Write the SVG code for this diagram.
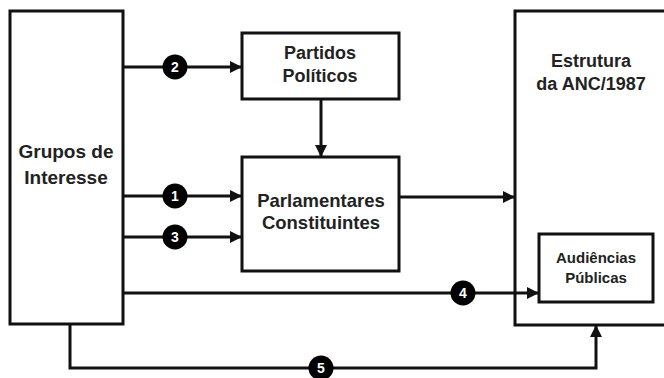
<svg xmlns="http://www.w3.org/2000/svg" width="664" height="378" viewBox="0 0 664 378">
<defs>
<marker id="ah" viewBox="0 0 12 12" refX="12" refY="6" markerWidth="12" markerHeight="12" markerUnits="userSpaceOnUse" orient="auto">
<path d="M0,0 L12,6 L0,12 Z" fill="#111"/>
</marker>
<style>
.box{fill:#fff;stroke:#111;stroke-width:3}
.t{font-family:"Liberation Sans",Arial,sans-serif;font-weight:bold;fill:#222;text-anchor:middle}
.c{stroke:#111;stroke-width:3;fill:none}
.badge circle{fill:#000}
.badge text{font-family:"Liberation Sans",Arial,sans-serif;font-weight:bold;fill:#fff;font-size:14px;text-anchor:middle}
</style>
</defs>
<rect width="664" height="378" fill="#fff"/>
<g id="estrutura">
<rect class="box" x="515" y="11" width="160" height="314"/>
<text class="t" font-size="18" x="591" y="67">Estrutura</text>
<text class="t" font-size="18" x="591" y="90">da ANC/1987</text>
</g>
<g id="grupos">
<rect class="box" x="10" y="11" width="113" height="313"/>
<text class="t" font-size="19" x="66" y="158">Grupos de</text>
<text class="t" font-size="19" x="66" y="184">Interesse</text>
</g>
<g id="partidos">
<rect class="box" x="242" y="33" width="157" height="66"/>
<text class="t" font-size="18" x="320" y="59">Partidos</text>
<text class="t" font-size="18" x="320" y="82">Políticos</text>
</g>
<g id="parlamentares">
<rect class="box" x="242" y="157" width="157" height="114"/>
<text class="t" font-size="18.5" x="321" y="207">Parlamentares</text>
<text class="t" font-size="18.5" x="321" y="229">Constituintes</text>
</g>
<g id="audiencias">
<rect class="box" x="539" y="234" width="114" height="68"/>
<text class="t" font-size="15" x="596" y="263">Audiências</text>
<text class="t" font-size="15" x="596" y="283">Públicas</text>
</g>
<g id="connectors">
<line class="c" x1="123" y1="67" x2="242" y2="67" marker-end="url(#ah)"/>
<line class="c" x1="321" y1="99" x2="321" y2="157" marker-end="url(#ah)"/>
<line class="c" x1="123" y1="196" x2="242" y2="196" marker-end="url(#ah)"/>
<line class="c" x1="123" y1="237" x2="242" y2="237" marker-end="url(#ah)"/>
<line class="c" x1="399" y1="197" x2="515" y2="197" marker-end="url(#ah)"/>
<line class="c" x1="123" y1="293" x2="539" y2="293" marker-end="url(#ah)"/>
<polyline class="c" points="70,324 70,368 596,368 596,325" marker-end="url(#ah)"/>
</g>
<g id="badges" class="badge">
<circle cx="175" cy="67" r="12.5"/><text x="175" y="72">2</text>
<circle cx="175" cy="196" r="12.5"/><text x="175" y="201">1</text>
<circle cx="175" cy="237" r="12.5"/><text x="175" y="242">3</text>
<circle cx="463" cy="293" r="12.5"/><text x="463" y="298">4</text>
<circle cx="321" cy="368" r="12.5"/><text x="321" y="373">5</text>
</g>
</svg>
